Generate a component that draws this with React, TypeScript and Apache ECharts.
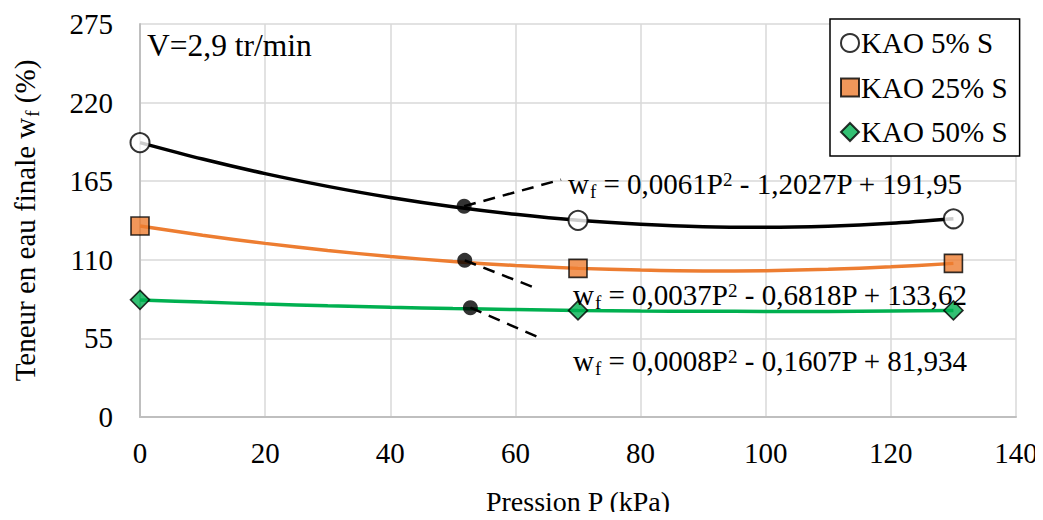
import React, { useEffect, useRef } from "react";
import * as echarts from "echarts";

const FONT = "'Liberation Serif', 'Times New Roman', serif";

// Measured points (P in kPa, w_f in %)
const pressure = [0, 70, 130];
const kao5 = [192, 137.6, 138.7];
const kao25 = [133.6, 104.0, 107.5];
const kao50 = [82, 74.6, 74.6];

// Trend curves
const trendP = [0, 10, 20, 30, 40, 50, 60, 70, 80, 90, 100, 110, 120, 130];
const trend5 = [192, 180.5, 170.3, 161.4, 153.6, 147.1, 141.8, 137.6, 134.8, 133.1, 132.7, 133.5, 135.5, 138.7];
const trend25 = [133.6, 127.2, 121.5, 116.5, 112.3, 108.8, 106.0, 104.0, 102.8, 102.2, 102.4, 103.4, 105.1, 107.5];
const trend50 = [81.9, 80.4, 79.0, 77.8, 76.8, 75.9, 75.2, 74.6, 74.2, 74.0, 73.9, 73.9, 74.2, 74.6];

// Leader dots and dashed leader ends
const leaderDots = [
  [51.8, 147.5],
  [51.9, 109.6],
  [52.8, 76.5],
];
const leaderEnds = [
  [67.3, 166.1],
  [63.6, 89.6],
  [64.4, 54.4],
];

const seriesNames = ["KAO 5% S", "KAO 25% S", "KAO 50% S"];
// equation parts: [a, b, c] -> w_f = aP² - bP + c
const eqA = ["0,0061", "0,0037", "0,0008"];
const eqB = ["1,2027", "0,6818", "0,1607"];
const eqC = ["191,95", "133,62", "81,934"];

const yTicks = [0, 55, 110, 165, 220, 275];

const zip = (xs: number[], ys: number[]) => xs.map((x, i) => [x, ys[i]]);

export default function App() {
  const ref = useRef<HTMLDivElement>(null);
  useEffect(() => {
    if (!ref.current) return;
    const chart = echarts.init(ref.current, null, { renderer: "svg" });
    const eqRich = {
      m: { fontFamily: FONT, fontSize: 29, lineHeight: 32, color: "#000" },
      s: { fontFamily: FONT, fontSize: 19, lineHeight: 18, padding: [15, 0, 0, 1], color: "#000" },
      p: { fontFamily: FONT, fontSize: 19, lineHeight: 18, padding: [0, 0, 9, 0], color: "#000" },
    };
    const eqPos = [
      [568, 184],
      [573, 295],
      [573, 361],
    ];
    chart.setOption({
      animation: false,
      backgroundColor: "#ffffff",
      grid: { left: 137, right: 27, top: 24, bottom: 97, containLabel: false },
      xAxis: {
        type: "value",
        min: 0,
        max: 140,
        interval: 20,
        name: "Pression P (kPa)",
        nameLocation: "middle",
        nameGap: 70,
        nameTextStyle: { fontFamily: FONT, fontSize: 28, color: "#000" },
        axisLine: { show: true, lineStyle: { color: "#bfbfbf", width: 2 } },
        axisTick: { show: false },
        axisLabel: { margin: 21, fontFamily: FONT, fontSize: 29, color: "#000" },
        splitLine: { show: true, lineStyle: { color: "#d9d9d9", width: 1.5 } },
      },
      yAxis: {
        type: "value",
        min: 0,
        max: 275,
        interval: 55,
        name: "{m|Teneur en eau finale w}{s|f}{m| (%)}",
        nameLocation: "middle",
        nameGap: 99,
        nameTextStyle: {
          rich: {
            m: { fontFamily: FONT, fontSize: 29, lineHeight: 32, color: "#000" },
            s: { fontFamily: FONT, fontSize: 19, lineHeight: 18, padding: [15, 0, 0, 1], color: "#000" },
          },
        },
        axisLine: { show: true, lineStyle: { color: "#bfbfbf", width: 2 } },
        axisTick: { show: false },
        axisLabel: {
          margin: 27,
          fontFamily: FONT,
          fontSize: 29,
          color: "#000",
          formatter: (v: number) => (yTicks.includes(v) ? String(v) : ""),
        },
        splitLine: { show: true, lineStyle: { color: "#d9d9d9", width: 1.5 } },
      },
      legend: {
        data: seriesNames,
        orient: "vertical",
        left: 830,
        top: 19,
        padding: [9, 12, 9, 10],
        itemGap: 14.5,
        itemWidth: 18,
        itemHeight: 18,
        borderColor: "#000",
        borderWidth: 1.5,
        backgroundColor: "#fff",
        textStyle: { fontFamily: FONT, fontSize: 29, lineHeight: 30, color: "#000", padding: [0, 0, 0, -3] },
      },
      series: [
        {
          name: "trend5",
          type: "line",
          data: zip(trendP, trend5),
          smooth: 0.3,
          showSymbol: false,
          lineStyle: { color: "#000", width: 3.5 },
          z: 2,
          silent: true,
        },
        {
          name: "trend25",
          type: "line",
          data: zip(trendP, trend25),
          smooth: 0.3,
          showSymbol: false,
          lineStyle: { color: "#ED7D31", width: 3.5 },
          z: 2,
          silent: true,
        },
        {
          name: "trend50",
          type: "line",
          data: zip(trendP, trend50),
          smooth: 0.3,
          showSymbol: false,
          lineStyle: { color: "#00B050", width: 3.5 },
          z: 2,
          silent: true,
        },
        ...leaderDots.map((d, i) => ({
          name: "leader" + i,
          type: "line",
          data: [d, leaderEnds[i]],
          showSymbol: false,
          lineStyle: { color: "#000", width: 2.5, type: [12, 8] },
          z: 3,
          silent: true,
        })),
        {
          name: "dots",
          type: "scatter",
          data: leaderDots,
          symbol: "circle",
          symbolSize: 15,
          itemStyle: { color: "#000" },
          z: 4,
        },
        {
          name: seriesNames[0],
          type: "scatter",
          data: zip(pressure, kao5),
          symbol: "circle",
          symbolSize: 19,
          itemStyle: { color: "#fff", borderColor: "#000", borderWidth: 2 },
          z: 5,
        },
        {
          name: seriesNames[1],
          type: "scatter",
          data: zip(pressure, kao25),
          symbol: "rect",
          symbolSize: 18,
          itemStyle: { color: "#ED7D31", borderColor: "#000", borderWidth: 1.6 },
          z: 5,
        },
        {
          name: seriesNames[2],
          type: "scatter",
          data: zip(pressure, kao50),
          symbol: "diamond",
          symbolSize: 19,
          itemStyle: { color: "#00B050", borderColor: "#000", borderWidth: 1.6 },
          z: 5,
        },
      ],
      graphic: [
        {
          type: "text",
          left: 147,
          top: 29,
          style: { text: "V=2,9 tr/min", fontFamily: FONT, fontSize: 31.5, fill: "#000" },
          z: 10,
        },
        ...eqA.map((a, i) => ({
          type: "text",
          x: eqPos[i][0],
          y: eqPos[i][1],
          style: {
            text: "{m|w}{s|f}{m| = " + a + "P}{p|2}{m| - " + eqB[i] + "P + " + eqC[i] + "}",
            rich: eqRich,
            verticalAlign: "middle",
            align: "left",
          },
          z: 10,
        })),
      ],
    });
    return () => chart.dispose();
  }, []);
  return <div ref={ref} style={{ width: 1043, height: 520, margin: -8 }} />;
}
